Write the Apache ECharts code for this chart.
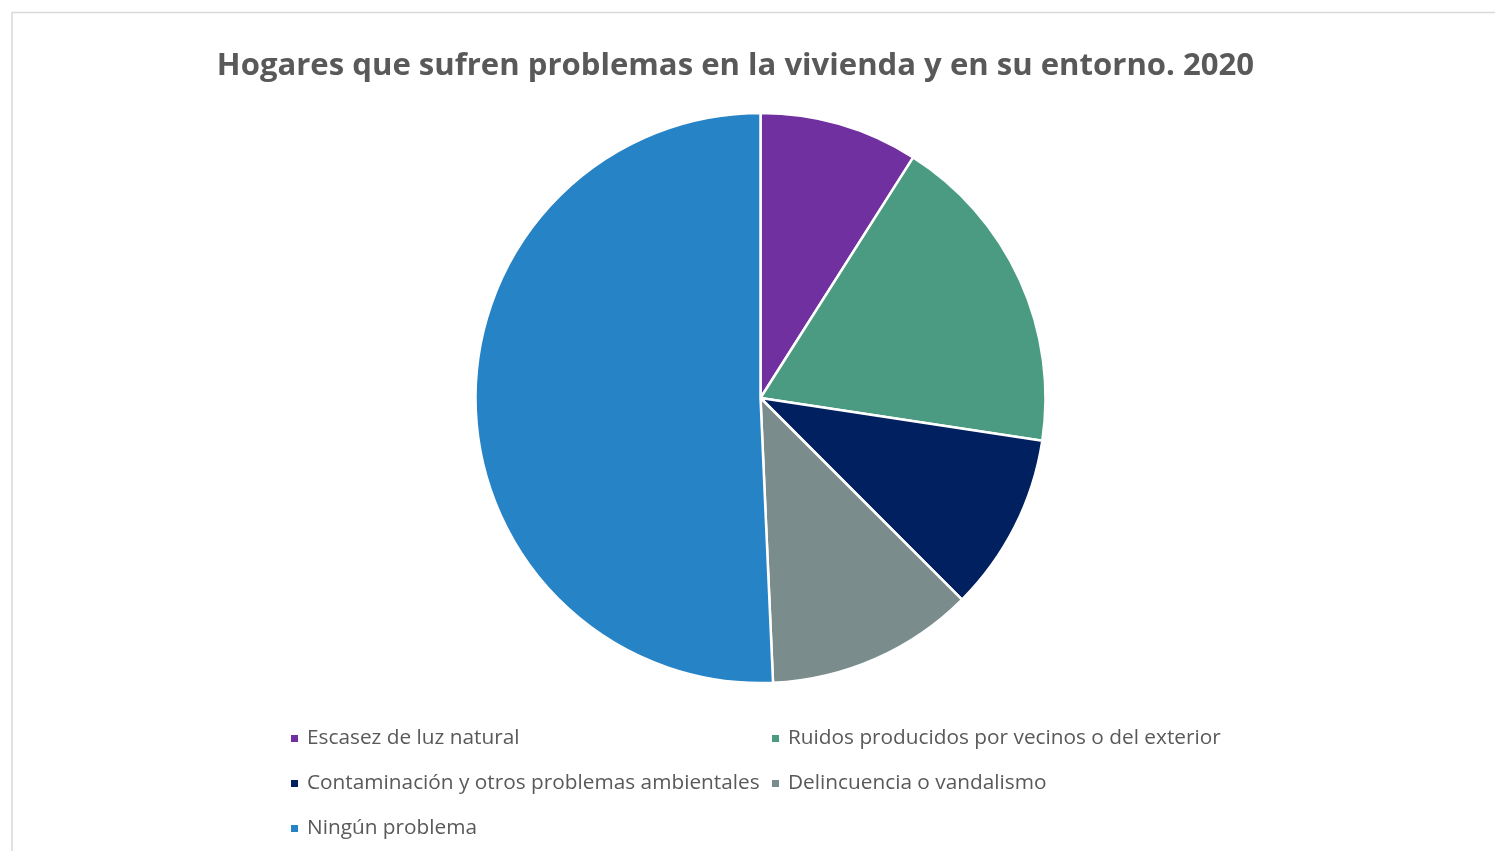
<!DOCTYPE html>
<html>
<head>
<meta charset="utf-8">
<script src="https://cdn.jsdelivr.net/npm/echarts@6/dist/echarts.min.js"></script>
<style>
html,body{margin:0;padding:0;background:#fff;}
#main{width:1495px;height:851px;}
</style>
</head>
<body>
<div id="main"></div>
<script>
const categories = [
  'Escasez de luz natural',
  'Ruidos producidos por vecinos o del exterior',
  'Contaminación y otros problemas ambientales',
  'Delincuencia o vandalismo',
  'Ningún problema'
];
const values = [9.0, 18.4, 10.1, 11.8, 50.7];
const colors = ['#7030A0', '#4A9B82', '#002060', '#7B8C8C', '#2683C6'];
const titleText = 'Hogares que sufren problemas en la vivienda y en su entorno. 2020';

const chart = echarts.init(document.getElementById('main'), null, {renderer: 'canvas'});
const legendText = {color: '#595959', fontSize: 20.8, fontFamily: 'Open Sans', padding: [0, 0, 0, 3]};
chart.setOption({
  animation: false,
  backgroundColor: '#fff',
  color: colors,
  title: {
    text: titleText,
    left: 730.5,
    top: 46,
    textAlign: 'center',
    textStyle: {color: '#595959', fontSize: 31.1, fontWeight: 'bold', fontFamily: 'Open Sans'}
  },
  graphic: [{
    type: 'rect',
    shape: {x: 12, y: 12.5, width: 1520, height: 900},
    style: {fill: 'none', stroke: '#D9D9D9', lineWidth: 1.5},
    silent: true
  }],
  legend: [{
    orient: 'vertical',
    left: 284,
    top: 723,
    itemWidth: 9,
    itemHeight: 9,
    itemGap: 24,
    icon: 'rect',
    textStyle: legendText,
    data: [categories[0], categories[2], categories[4]]
  }, {
    orient: 'vertical',
    left: 765,
    top: 723,
    itemWidth: 9,
    itemHeight: 9,
    itemGap: 24,
    icon: 'rect',
    textStyle: legendText,
    data: [categories[1], categories[3]]
  }],
  series: [{
    type: 'pie',
    center: [760.5, 398],
    radius: 285,
    startAngle: 90,
    clockwise: true,
    label: {show: false},
    labelLine: {show: false},
    itemStyle: {borderColor: '#fff', borderWidth: 2.5},
    emphasis: {disabled: true},
    data: categories.map((c, i) => ({name: c, value: values[i]}))
  }]
});
</script>
</body>
</html>
